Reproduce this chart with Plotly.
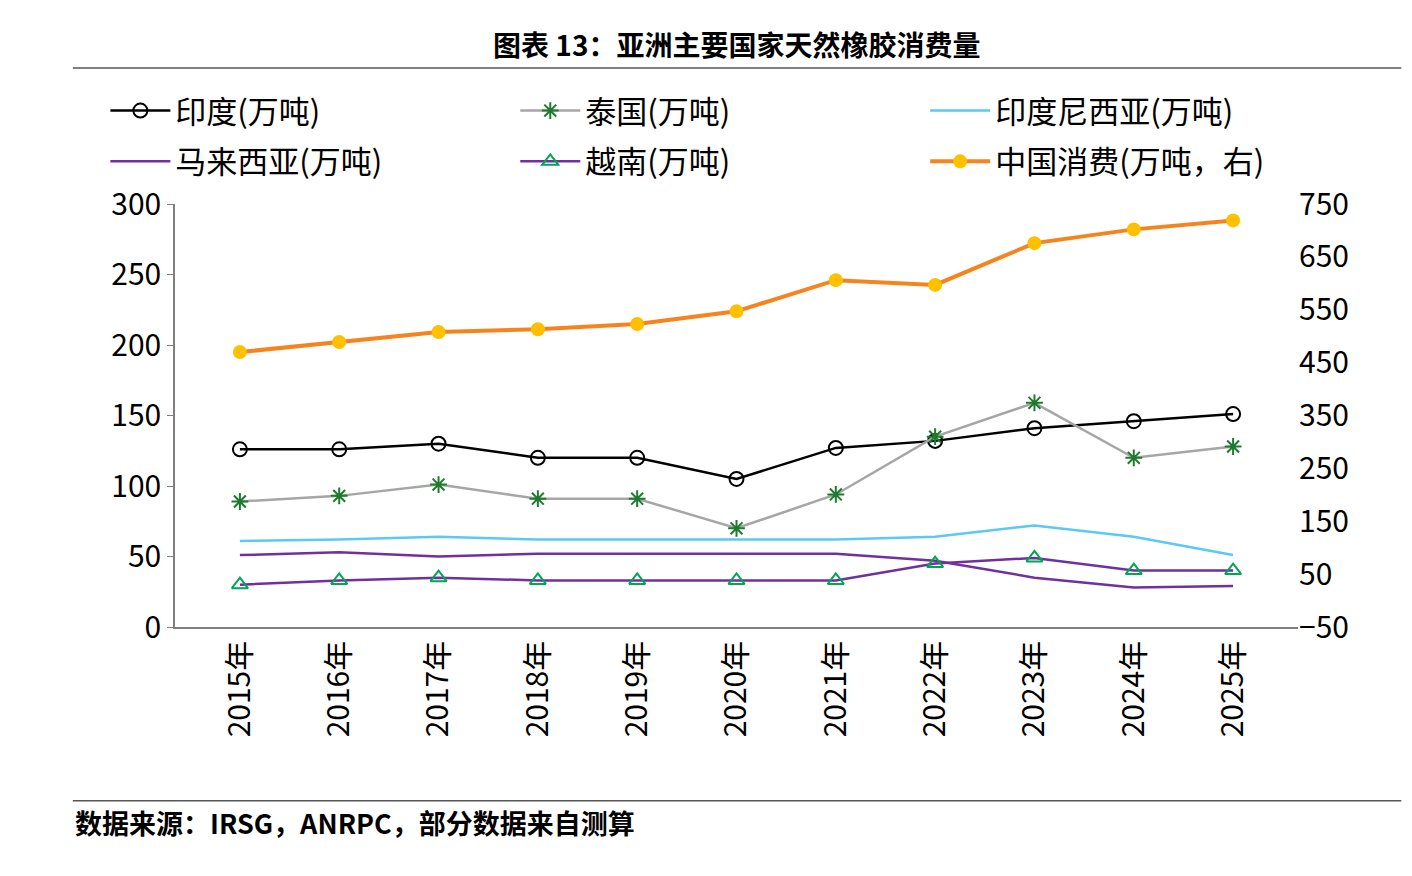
import plotly.graph_objects as go

years = ["2015年","2016年","2017年","2018年","2019年","2020年","2021年","2022年","2023年","2024年","2025年"]
india = [126,126,130,120,120,105,127,132,141,146,151]
thailand = [89,93,101,91,91,70,94,135,159,120,128]
indonesia = [61,62,64,62,62,62,62,64,72,64,51]
malaysia = [51,53,50,52,52,52,52,47,35,28,29]
vietnam = [30,33,35,33,33,33,33,45,49,40,40]
china = [470,489,508,513,523,547,606,597,676,702,719]

F = "Noto Sans CJK SC"
fig = go.Figure()
fig.add_trace(go.Scatter(x=years, y=india, name="印度(万吨)", mode="lines+markers", legend="legend",
    line=dict(color="black", width=2.5), marker=dict(symbol="circle-open", size=14, color="black", line=dict(width=2))))
fig.add_trace(go.Scatter(x=years, y=thailand, name="泰国(万吨)", mode="lines+markers", legend="legend2",
    line=dict(color="#a6a6a6", width=2.5), marker=dict(symbol="asterisk-open", size=14, color="#1e7b2e", line=dict(width=2, color="#1e7b2e"))))
fig.add_trace(go.Scatter(x=years, y=indonesia, name="印度尼西亚(万吨)", mode="lines", legend="legend3",
    line=dict(color="#5bc8f5", width=2.5)))
fig.add_trace(go.Scatter(x=years, y=malaysia, name="马来西亚(万吨)", mode="lines", legend="legend4",
    line=dict(color="#7030a0", width=2.5)))
fig.add_trace(go.Scatter(x=years, y=vietnam, name="越南(万吨)", mode="lines+markers", legend="legend5",
    line=dict(color="#7030a0", width=2.5), marker=dict(symbol="triangle-up-open", size=14, color="#00a651", line=dict(width=2))))
fig.add_trace(go.Scatter(x=years, y=china, name="中国消费(万吨，右)", mode="lines+markers", yaxis="y2", legend="legend6",
    line=dict(color="#f5841f", width=4), marker=dict(symbol="circle", size=14, color="#ffc000")))

def leg(x, y):
    return dict(x=x, y=y, xanchor="left", yanchor="middle", orientation="h",
                font=dict(size=31, family=F), itemwidth=60, bgcolor="rgba(0,0,0,0)")

xs = [-0.062, 0.303, 0.668]
ys = [1.22, 1.10]
fig.update_layout(
    width=1412, height=876, paper_bgcolor="white", plot_bgcolor="white",
    margin=dict(l=167, r=122, t=196, b=257, autoexpand=False),
    font=dict(family=F, size=30, color="black"),
    showlegend=True,
    legend=leg(xs[0], ys[0]), legend2=leg(xs[1], ys[0]), legend3=leg(xs[2], ys[0]),
    legend4=leg(xs[0], ys[1]), legend5=leg(xs[1], ys[1]), legend6=leg(xs[2], ys[1]),
    xaxis=dict(tickangle=-90, showline=True, linecolor="#7f7f7f", linewidth=1.5, showgrid=False,
               ticks="", tickfont=dict(size=30, family=F), automargin=False),
    yaxis=dict(range=[0,300], dtick=50, showline=True, linecolor="#7f7f7f", linewidth=1.5,
               showgrid=False, ticks="outside", ticklen=6, tickcolor="#7f7f7f", zeroline=False, automargin=False),
    yaxis2=dict(range=[-50,750], tick0=-50, dtick=100, overlaying="y", side="right", showgrid=False,
                showline=False, zeroline=False, automargin=False),
    annotations=[
        dict(text="<b>图表 13：亚洲主要国家天然橡胶消费量</b>", xref="paper", yref="paper",
             x=0.5, y=1.378, yanchor="middle", xanchor="center", showarrow=False,
             font=dict(size=28, family=F)),
        dict(text="<b>数据来源：IRSG，ANRPC，部分数据来自测算</b>", xref="paper", yref="paper",
             x=-0.091, xanchor="left", y=-0.463, yanchor="middle", showarrow=False,
             font=dict(size=27, family=F)),
    ],
    shapes=[
        dict(type="line", xref="paper", yref="paper", x0=-0.091, x1=1.092, y0=1.3215, y1=1.3215,
             line=dict(color="black", width=1)),
        dict(type="line", xref="paper", yref="paper", x0=-0.091, x1=1.092, y0=-0.411, y1=-0.411,
             line=dict(color="black", width=1)),
    ],
)
fig.write_html("out.html")
